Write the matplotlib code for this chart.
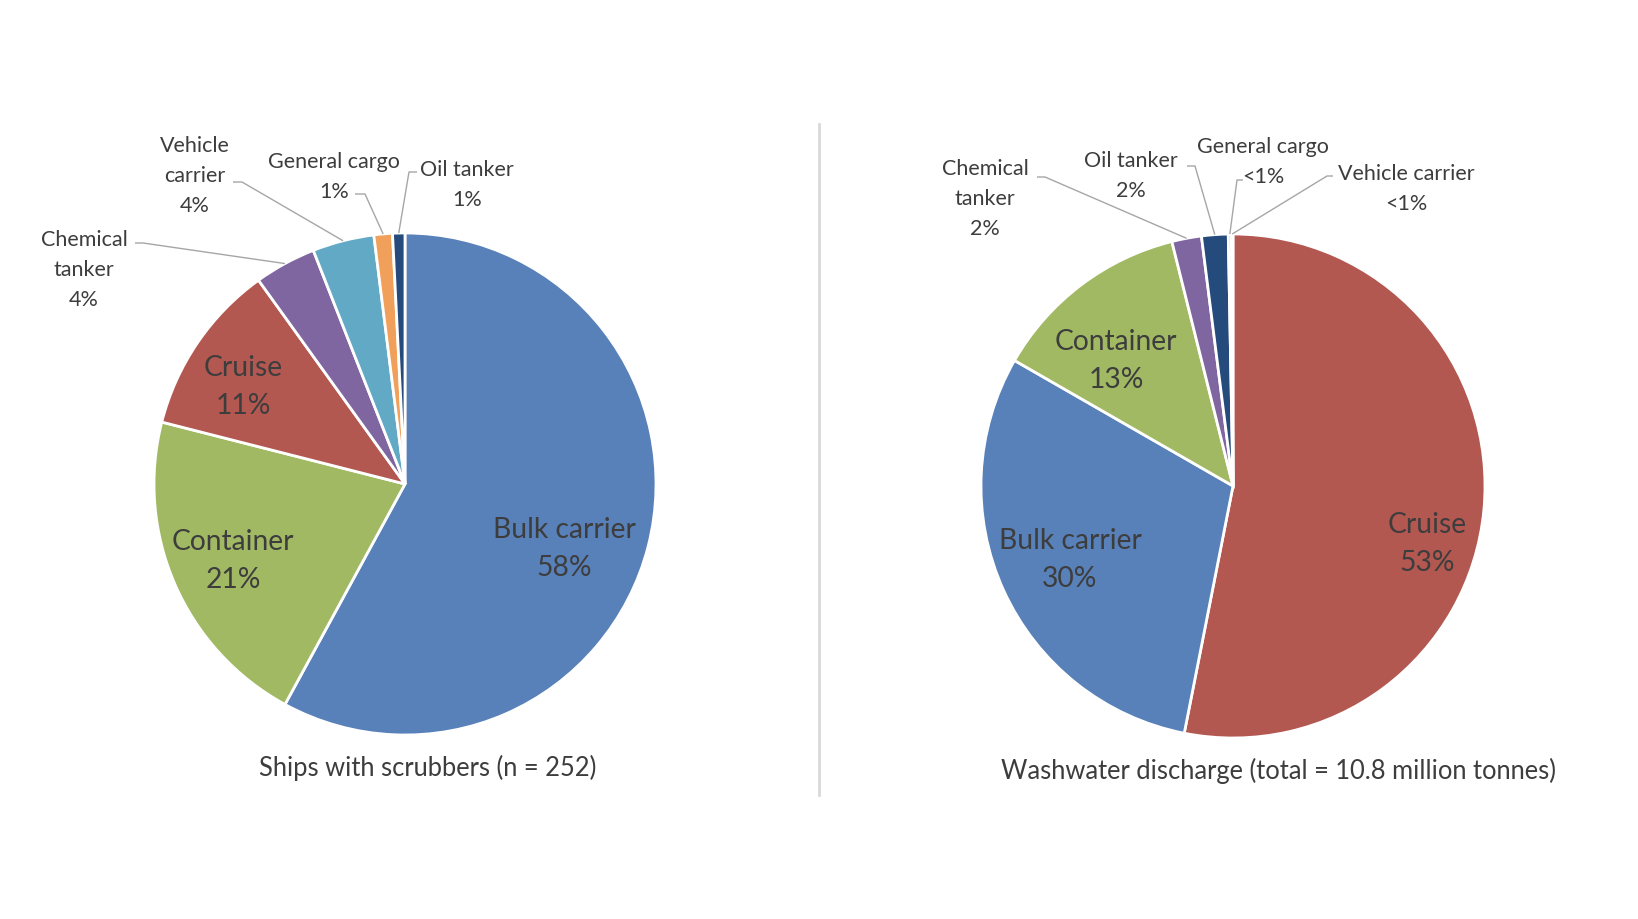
import numpy as np
import matplotlib
matplotlib.use("Agg")
from matplotlib import pyplot as plt

# ---- data ----
left_names = ['Bulk carrier', 'Container', 'Cruise', 'Chemical\ntanker',
              'Vehicle\ncarrier', 'General cargo', 'Oil tanker']
left_counts = [146, 53, 28, 10, 10, 3, 2]          # n = 252 ships
left_pct = ['58%', '21%', '11%', '4%', '4%', '1%', '1%']

right_names = ['Cruise', 'Bulk carrier', 'Container', 'Chemical\ntanker',
               'Oil tanker', 'General cargo', 'Vehicle carrier']
right_share = [53.1, 30.2, 12.8, 1.9, 1.7, 0.2, 0.1]   # % of 10.8 Mt
right_pct = ['53%', '30%', '13%', '2%', '2%', '<1%', '<1%']

left_title = 'Ships with scrubbers (n = 252)'
right_title = 'Washwater discharge (total = 10.8 million tonnes)'

colors = {'Bulk carrier': '#5880b9', 'Container': '#a2b964', 'Cruise': '#b35751',
          'Chemical\ntanker': '#7f66a0', 'Vehicle\ncarrier': '#62a9c5',
          'Vehicle carrier': '#62a9c5', 'General cargo': '#f0a05a',
          'Oil tanker': '#254a7c'}

W, H = 1638, 920
TXT = '#3d3d3d'
LINE = '#a6a6a6'
DY = 3   # text baseline nudge
plt.rcParams['font.family'] = ['Lato', 'DejaVu Sans']


def px(x, y):
    # picture pixels (origin top-left) -> axes data
    return x, H - y


fig = plt.figure(figsize=(W / 100, H / 100), dpi=100)
ax = fig.add_axes([0, 0, 1, 1])


def draw_pie(values, names, pcts, center, radius, inside, outside):
    wedges, _ = ax.pie(values, colors=[colors[n] for n in names], startangle=90,
                       counterclock=False, center=px(*center), radius=radius,
                       wedgeprops=dict(edgecolor='white', linewidth=2))
    for i, w in enumerate(wedges):
        if i in inside:
            x, y = inside[i]
            ax.text(*px(x, y + DY), names[i] + '\n' + pcts[i], ha='center', va='center',
                    fontsize=20.3, color=TXT, linespacing=1.55)
        elif i in outside:
            (tx, ty), start, knee = outside[i]
            ax.text(*px(tx, ty + DY), names[i] + '\n' + pcts[i], ha='center', va='center',
                    fontsize=15.5, color=TXT, linespacing=1.6)
            a = np.deg2rad((w.theta1 + w.theta2) / 2)
            ex = w.center[0] + w.r * np.cos(a)
            ey = w.center[1] + w.r * np.sin(a)
            xs = [start[0], knee[0]]
            ys = [H - start[1], H - knee[1]]
            ax.plot(xs + [ex], ys + [ey], color=LINE, lw=1, solid_capstyle='butt')
    return wedges


draw_pie(left_counts, left_names, left_pct, (405, 485), 251,
         inside={0: (564, 546), 1: (233, 558), 2: (243, 384)},
         outside={3: ((84, 267), (135, 244), (143, 244)),
                  4: ((195, 173), (233, 183), (242, 183)),
                  5: ((334, 174), (355, 195), (365, 195)),
                  6: ((467, 182), (417, 173), (409, 173))})

draw_pie(right_share, right_names, right_pct, (1233, 487), 252,
         inside={0: (1427, 541), 1: (1070, 557), 2: (1116, 358)},
         outside={3: ((985, 196), (1037, 178), (1045, 178)),
                  4: ((1131, 173), (1187, 167), (1195, 167)),
                  5: ((1263, 159), (1243, 181), (1237, 181)),
                  6: ((1406, 186), (1333, 177), (1327, 177))})

ax.text(*px(428, 768), left_title, ha='center', va='center', fontsize=18.4, color=TXT)
ax.text(*px(1279, 771), right_title, ha='center', va='center', fontsize=18.4, color=TXT)

# divider between the two charts
ax.plot([819, 819], [H - 125, H - 796], color='#d9d9d9', lw=2)

ax.set_xlim(0, W)
ax.set_ylim(0, H)
ax.set_aspect('equal')
ax.axis('off')

fig.savefig('out.png', dpi=100, facecolor='white')
